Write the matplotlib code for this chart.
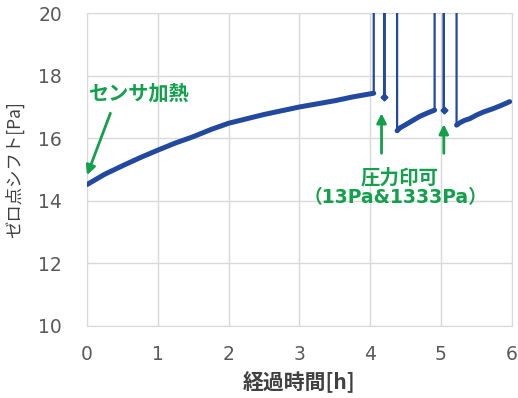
import matplotlib
matplotlib.use("Agg")
import matplotlib.pyplot as plt

plt.rcParams['font.family'] = ['DejaVu Sans', 'Noto Sans CJK JP']

# heating segment (before pressure is applied)
seg1_t = [0.0, 0.25, 0.5, 0.75, 1.0, 1.25, 1.5, 1.75, 2.0, 2.25, 2.5, 2.75,
          3.0, 3.25, 3.5, 3.75, 4.0, 4.05]
seg1_y = [14.52, 14.85, 15.12, 15.38, 15.62, 15.85, 16.05, 16.28, 16.48, 16.62,
          16.76, 16.88, 17.0, 17.1, 17.2, 17.32, 17.42, 17.44]
# after first pressure step
seg2_t = [4.38, 4.42, 4.49, 4.55, 4.61, 4.7, 4.8, 4.91]
seg2_y = [16.24, 16.33, 16.42, 16.5, 16.58, 16.7, 16.8, 16.9]
# after second pressure step
seg3_t = [5.22, 5.27, 5.33, 5.41, 5.5, 5.6, 5.74, 5.85, 5.97]
seg3_y = [16.42, 16.5, 16.57, 16.63, 16.74, 16.84, 16.95, 17.05, 17.17]
# single readings between the off-scale spikes
point_t = [4.2, 5.04]
point_y = [17.31, 16.9]
spike_top = 25.0  # off scale

# full trace incl. off-scale spikes
trace_t = (seg1_t + [4.05, point_t[0], point_t[0], point_t[0], seg2_t[0]] + seg2_t
           + [seg2_t[-1], point_t[1], point_t[1], point_t[1], seg3_t[0]] + seg3_t)
trace_y = (seg1_y + [spike_top, spike_top, point_y[0], spike_top, spike_top] + seg2_y
           + [spike_top, spike_top, point_y[1], spike_top, spike_top] + seg3_y)

blue = '#2149a0'
green = '#13a04a'
jp = ['Noto Sans CJK JP', 'DejaVu Sans']

fig = plt.figure(figsize=(5.18, 3.98), dpi=100)
ax = fig.add_axes([0.168, 0.181, 0.82, 0.786])

ax.plot(trace_t, trace_y, color=blue, lw=1.6, zorder=3)
for t, y in [(seg1_t, seg1_y), (seg2_t, seg2_y), (seg3_t, seg3_y)]:
    ax.plot(t, y, color=blue, lw=3.6, solid_capstyle='round', zorder=4)
ax.plot(point_t, point_y, 'D', color=blue, ms=3.5, zorder=5)

ax.set_xlim(0, 6)
ax.set_ylim(10, 20)
ax.set_xticks(range(0, 7))
ax.set_yticks(range(10, 21, 2))
ax.grid(True, color='#d9d9d9', lw=1)
ax.set_axisbelow(True)
for s in ax.spines.values():
    s.set_color('#d9d9d9')
ax.tick_params(length=0, labelsize=13.5, labelcolor='#595959')
ax.tick_params(axis='x', pad=14)
ax.tick_params(axis='y', pad=18)

ax.set_xlabel('経過時間[h]', fontsize=15, fontweight='bold', color='#404040',
              labelpad=5, family=jp)
ax.set_ylabel('ゼロ点シフト[Pa]', fontsize=12.5, color='#404040', labelpad=10, family=jp)

arrow = dict(arrowstyle='-|>', color=green, lw=2, mutation_scale=14, shrinkA=0, shrinkB=0)
ax.annotate('', xy=(0.0, 14.82), xytext=(0.33, 16.8), arrowprops=arrow)
ax.text(0.02, 17.44, 'センサ加熱', color=green, fontsize=14.5, fontweight='bold',
        va='center', ha='left', family=jp)
ax.annotate('', xy=(4.16, 16.8), xytext=(4.16, 15.52), arrowprops=arrow)
ax.annotate('', xy=(5.04, 16.45), xytext=(5.04, 15.52), arrowprops=arrow)
ax.text(4.41, 14.73, '圧力印可', color=green, fontsize=14,
        fontweight='bold', ha='center', va='center', family=jp)
ax.text(4.36, 14.09, '（13Pa&1333Pa）', color=green, fontsize=13.5,
        fontweight='bold', ha='center', va='center',
        family=['DejaVu Sans', 'Noto Sans CJK JP'])

fig.savefig('out.png', dpi=100)
